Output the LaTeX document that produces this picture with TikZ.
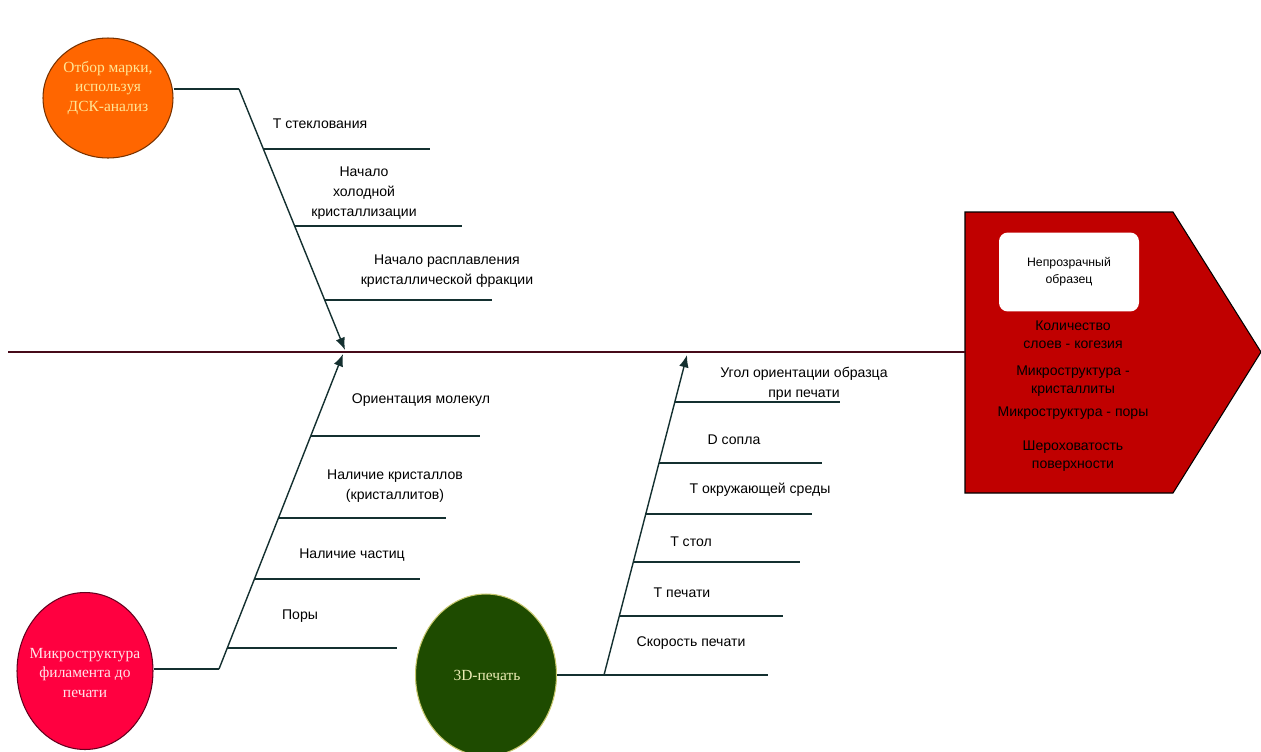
\documentclass[tikz,border=0pt]{standalone}
\usepackage{fontspec}
\setmainfont{Liberation Sans}
\newfontfamily\ellfont{Liberation Serif}
\usetikzlibrary{positioning, calc, shapes.geometric, arrows.meta}

\definecolor{spinecol}{RGB}{70,10,25}
\definecolor{bonecol}{RGB}{20,48,48}
\definecolor{headred}{RGB}{192,0,0}
\definecolor{dscorange}{RGB}{255,102,0}
\definecolor{filcrimson}{RGB}{255,0,64}
\definecolor{printgreen}{RGB}{30,75,0}

\begin{document}
\begin{tikzpicture}[x=0.02cm, y=-0.02cm,
  lbl/.style={font=\fontsize{8}{11.3}\selectfont, align=center, inner sep=0pt},
  headlbl/.style={font=\fontsize{8}{10.2}\selectfont, align=center, inner sep=0pt},
  bone/.style={draw=bonecol, line width=0.8pt},
  arrowbone/.style={bone, -{Latex[length=7pt, width=5.5pt]}},
  cause/.style={ellipse, inner sep=0pt, line width=0.6pt},
  causetxt/.style={align=center, inner sep=0pt, font=\ellfont\fontsize{8.8}{11}\selectfont}]

\useasboundingbox (0,0) rectangle (1261,751);

% head of the fish
\draw[fill=headred, line width=0.6pt] (965,212) -- (1173,212) -- (1261,352) -- (1173,493) -- (965,493) -- cycle;
\coordinate (spineL) at (8,352);
\coordinate (headW) at (965,352);
\draw[spinecol, line width=1.1pt] (spineL) -- (headW);

\node[fill=white, rounded corners=5pt, minimum width=2.8cm, minimum height=1.58cm, font=\fontsize{7}{9.6}\selectfont, align=center](opaque) at (1069,272) {Непрозрачный\\образец};
\node[headlbl](layers) at (1073,335) {Количество\\слоев - когезия};
\node[headlbl](crystals) at (1073,381) {Микроструктура -\\кристаллиты};
\node[headlbl](pores) at (1073,413) {Микроструктура - поры};
\node[headlbl](rough) at (1073,456) {Шероховатость\\поверхности};

% causes
\node[cause, fill=dscorange, draw={rgb,255:red,120;green,50;blue,0}, minimum width=2.6cm, minimum height=2.4cm](dsc) at (108,98) {};
\node[causetxt, text={rgb,255:red,255;green,230;blue,150}](dscTxt) at (108,88) {Отбор марки,\\используя\\ДСК-анализ};
\node[cause, fill=filcrimson, draw={rgb,255:red,100;green,0;blue,30}, minimum width=2.72cm, minimum height=3.14cm](filament) at (85,671) {};
\node[causetxt, text={rgb,255:red,255;green,228;blue,232}](filamentTxt) at (85,673) {Микроструктура\\филамента до\\печати};
\node[cause, fill=printgreen, draw={rgb,255:red,200;green,200;blue,110}, minimum width=2.82cm, minimum height=3.24cm](print) at (486,675) {};
\node[causetxt, text={rgb,255:red,235;green,235;blue,180}](printTxt) at (487,675) {3D-печать};

% upper bone: DSC
\coordinate (kinkA) at (239,89);
\coordinate (tipA) at (345,350);
\draw[bone] (kinkA -| dsc.east) -- (kinkA);
\draw[arrowbone] (kinkA) -- (tipA);

\node[lbl](tg) at (320,124) {Т стеклования};
\coordinate (tg0) at (263,149);
\coordinate (tg1) at (430,149);
\draw[bone] (tg0) -- (tg1);

\node[lbl](coldcr) at (364,193) {Начало\\холодной\\кристаллизации};
\coordinate (cc0) at (294,226);
\coordinate (cc1) at (462,226);
\draw[bone] (cc0) -- (cc1);

\node[lbl](melt) at (447,271) {Начало расплавления\\кристаллической фракции};
\coordinate (me0) at (324,300);
\coordinate (me1) at (492,300);
\draw[bone] (me0) -- (me1);

% lower left bone: filament
\coordinate (kinkB) at (219,669);
\coordinate (tipB) at (343,354);
\draw[bone] (kinkB -| filament.east) -- (kinkB);
\draw[arrowbone] (kinkB) -- (tipB);

\node[lbl](orient) at (421,400) {Ориентация молекул};
\coordinate (or0) at (311,436);
\coordinate (or1) at (480,436);
\draw[bone] (or0) -- (or1);

\node[lbl](hascr) at (395,486) {Наличие кристаллов\\(кристаллитов)};
\coordinate (hc0) at (279,518);
\coordinate (hc1) at (446,518);
\draw[bone] (hc0) -- (hc1);

\node[lbl](partic) at (352,555) {Наличие частиц};
\coordinate (pa0) at (255,579);
\coordinate (pa1) at (420,579);
\draw[bone] (pa0) -- (pa1);

\node[lbl](porsB) at (300,616) {Поры};
\coordinate (po0) at (227,648);
\coordinate (po1) at (397,648);
\draw[bone] (po0) -- (po1);

% lower middle bone: 3D printing
\coordinate (kinkC) at (604,675);
\coordinate (tipC) at (687,355);
\coordinate (sp1) at (768,675);
\draw[bone] (print.east) -- (sp1);
\draw[arrowbone] (kinkC) -- (tipC);

\node[lbl](angle) at (804,384) {Угол ориентации образца\\при печати};
\coordinate (an0) at (675,402);
\coordinate (an1) at (840,402);
\draw[bone] (an0) -- (an1);

\node[lbl](nozzle) at (734,440) {D сопла};
\coordinate (no0) at (659,463);
\coordinate (no1) at (822,463);
\draw[bone] (no0) -- (no1);

\node[lbl](ambient) at (760,490) {Т окружающей среды};
\coordinate (am0) at (646,514);
\coordinate (am1) at (812,514);
\draw[bone] (am0) -- (am1);

\node[lbl](bed) at (691,542) {Т стол};
\coordinate (be0) at (633,562);
\coordinate (be1) at (800,562);
\draw[bone] (be0) -- (be1);

\node[lbl](tprint) at (682,593) {Т печати};
\coordinate (tp0) at (619,616);
\coordinate (tp1) at (783,616);
\draw[bone] (tp0) -- (tp1);

\node[lbl](speed) at (691,643) {Скорость печати};
\end{tikzpicture}
\end{document}
